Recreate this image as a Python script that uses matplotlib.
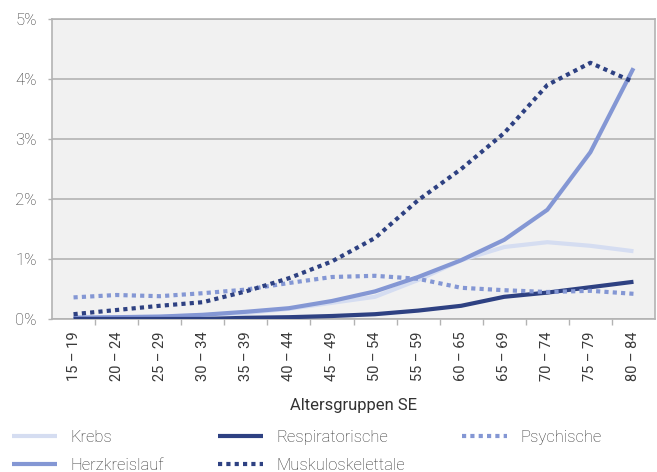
import matplotlib
matplotlib.use("Agg")
import matplotlib.pyplot as plt
import numpy as np
from matplotlib.ticker import FixedLocator, FuncFormatter

plt.rcParams['font.family'] = ['Roboto', 'DejaVu Sans']
plt.rcParams['font.weight'] = 'light'

categories = ["15 – 19", "20 – 24", "25 – 29", "30 – 34", "35 – 39", "40 – 44", "45 – 49",
              "50 – 54", "55 – 59", "60 – 65", "65 – 69", "70 – 74", "75 – 79", "80 – 84"]

krebs = [0.03, 0.03, 0.04, 0.06, 0.10, 0.17, 0.27, 0.37, 0.65, 0.98, 1.20, 1.28, 1.22, 1.13]
herzkreislauf = [0.02, 0.03, 0.04, 0.07, 0.12, 0.18, 0.30, 0.46, 0.70, 0.98, 1.32, 1.82, 2.78, 4.18]
respiratorische = [0.00, 0.00, 0.00, 0.00, 0.02, 0.03, 0.05, 0.08, 0.14, 0.22, 0.37, 0.44, 0.53, 0.62]
muskuloskelettale = [0.08, 0.15, 0.22, 0.28, 0.46, 0.68, 0.96, 1.35, 1.98, 2.50, 3.10, 3.90, 4.27, 3.95]
psychische = [0.36, 0.40, 0.38, 0.43, 0.49, 0.60, 0.70, 0.72, 0.67, 0.52, 0.48, 0.45, 0.47, 0.42]

c_light = "#d5ddf1"
c_mid = "#8497d4"
c_dark = "#2e4182"
text_c = "#333333"
grid_c = "#b3b3b3"

W, H = 657, 472
fig = plt.figure(figsize=(W / 100, H / 100), dpi=100)
ax = fig.add_axes([52 / W, 1 - 319 / H, (655 - 52) / W, (319 - 19) / H])
ax.set_facecolor("#f1f1f1")

x = np.arange(len(categories))
lw = 3.0
dot = (0, (1, 1))
l1, = ax.plot(x, krebs, color=c_light, lw=lw, solid_capstyle='butt', label="Krebs", zorder=3)
l2, = ax.plot(x, herzkreislauf, color=c_mid, lw=lw, solid_capstyle='butt', label="Herzkreislauf", zorder=3)
l3, = ax.plot(x, respiratorische, color=c_dark, lw=lw, solid_capstyle='butt', label="Respiratorische", zorder=3)
l5, = ax.plot(x, psychische, color=c_mid, lw=lw, ls=dot, dash_capstyle='butt', label="Psychische", zorder=3)
l4, = ax.plot(x, muskuloskelettale, color=c_dark, lw=lw, ls=dot, dash_capstyle='butt', label="Muskuloskelettale", zorder=3)

ax.set_xlim(-0.5, len(categories) - 0.5)
ax.set_ylim(0, 5)
ax.set_yticks([0, 1, 2, 3, 4, 5])
ax.yaxis.set_major_formatter(FuncFormatter(lambda v, p: f"{int(round(v))}%"))
ax.grid(axis='y', color=grid_c, lw=1.2, zorder=1)
ax.set_axisbelow(True)

ax.set_xticks(x)
ax.set_xticklabels(categories, rotation=90, fontsize=10.5, color="#3a3a3a", fontweight='normal')
ax.xaxis.set_minor_locator(FixedLocator(np.arange(0.5, len(categories) - 0.5, 1)))
ax.tick_params(axis='x', which='major', length=0, pad=9)
ax.tick_params(axis='x', which='minor', length=4, color=grid_c, width=1)
ax.tick_params(axis='y', length=3, color=grid_c, width=1, labelsize=12, labelcolor=text_c, pad=8)

for s in ax.spines.values():
    s.set_color(grid_c)
    s.set_linewidth(1.2)

ax.set_xlabel("Altersgruppen SE", fontsize=12, color=text_c, labelpad=12)

fs = 12
fpx = fs * 100 / 72
common = dict(frameon=False, fontsize=fs, handlelength=45 / fpx, handletextpad=13 / fpx,
              labelspacing=0.78, borderpad=0, borderaxespad=0, loc='upper left',
              labelcolor=text_c)
top = 1 - 430 / H
leg1 = fig.legend(handles=[l1, l2], bbox_to_anchor=(12 / W, top), **common)
leg2 = fig.legend(handles=[l3, l4], bbox_to_anchor=(218 / W, top), **common)
leg3 = fig.legend(handles=[l5], bbox_to_anchor=(462 / W, top), **common)

fig.savefig("out.png", dpi=100)
